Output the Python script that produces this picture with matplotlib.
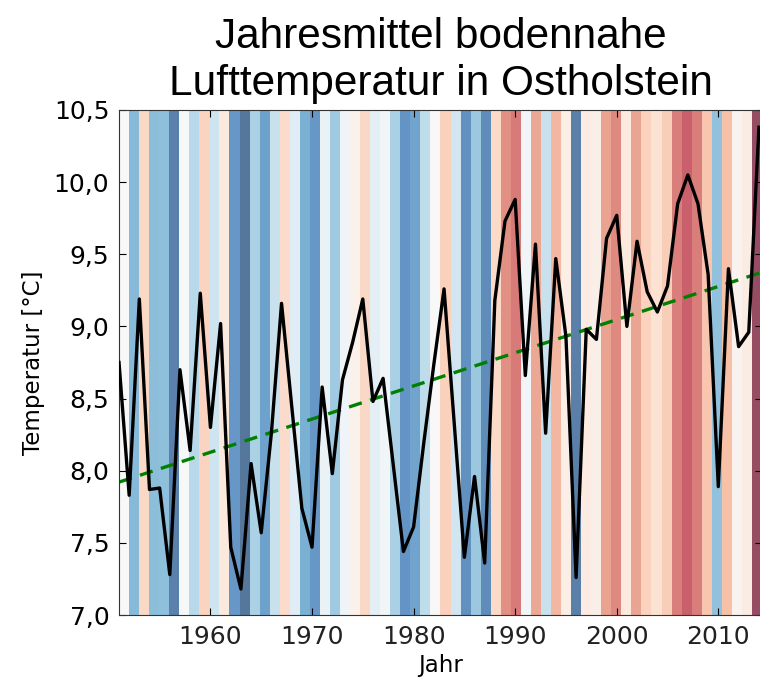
import numpy as np
import matplotlib
matplotlib.use("Agg")
import matplotlib.pyplot as plt
from matplotlib.colors import Normalize

# Jahresmittel der bodennahen Lufttemperatur, Ostholstein
jahre = list(range(1951, 2015))
temperatur = [
    8.75, 7.83, 9.19, 7.87, 7.88, 7.28, 8.70, 8.14, 9.23, 8.30,  # 1951-1960
    9.02, 7.47, 7.18, 8.05, 7.57, 8.26, 9.16, 8.45, 7.74, 7.47,  # 1961-1970
    8.58, 7.98, 8.63, 8.89, 9.19, 8.48, 8.64, 8.04, 7.44, 7.61,  # 1971-1980
    8.19, 8.74, 9.26, 8.33, 7.40, 7.96, 7.36, 9.18, 9.73, 9.88,  # 1981-1990
    8.66, 9.57, 8.26, 9.47, 8.93, 7.26, 8.98, 8.91, 9.61, 9.77,  # 1991-2000
    9.00, 9.59, 9.24, 9.10, 9.28, 9.85, 10.05, 9.85, 9.36, 7.89,  # 2001-2010
    9.40, 8.86, 8.96, 10.38,                                     # 2011-2014
]

x_ticks = [1960, 1970, 1980, 1990, 2000, 2010]
y_ticks = [7.0, 7.5, 8.0, 8.5, 9.0, 9.5, 10.0, 10.5]
y_tick_labels = ["7,0", "7,5", "8,0", "8,5", "9,0", "9,5", "10,0", "10,5"]

jahre = np.array(jahre)
temperatur = np.array(temperatur)
x_ende = 2014.3

fig = plt.figure(figsize=(7.6, 6.78), dpi=100)
ax = fig.add_axes([0.1566, 0.0929, 0.846, 0.7449])

# Warming stripes im Hintergrund
ax.imshow(temperatur[np.newaxis, :], cmap="RdBu_r",
          norm=Normalize(vmin=7.1, vmax=10.4), alpha=0.7,
          extent=(jahre[0], x_ende, 7.0, 10.5), aspect="auto",
          interpolation="nearest", zorder=0)

# Temperaturverlauf
ax.plot(jahre, temperatur, color="black", lw=2.4, zorder=3)

# linearer Trend
koeff = np.polyfit(jahre, temperatur, 1)
x_trend = np.array([jahre[0], x_ende])
ax.plot(x_trend, np.polyval(koeff, x_trend), color="green", lw=2.4,
        ls=(0, (4, 2.6)), zorder=2)

ax.set_xlim(jahre[0], x_ende)
ax.set_ylim(7.0, 10.5)
ax.set_xticks(x_ticks)
ax.set_yticks(y_ticks)
ax.set_yticklabels(y_tick_labels)
ax.tick_params(direction="in", top=True, right=True, labelsize=18,
               length=5, pad=7, colors="black")
ax.tick_params(axis="x", labelcolor="#222222")
for sp in ax.spines.values():
    sp.set_color("#333333")

ax.set_xlabel("Jahr", fontsize=16.5, labelpad=4)
ax.set_ylabel("Temperatur [°C]", fontsize=16.5, labelpad=6)
ax.set_title("Jahresmittel bodennahe\nLufttemperatur in Ostholstein",
             fontsize=30.5, family="Liberation Sans", linespacing=1.22, pad=11)

fig.savefig("out.png", dpi=100)
